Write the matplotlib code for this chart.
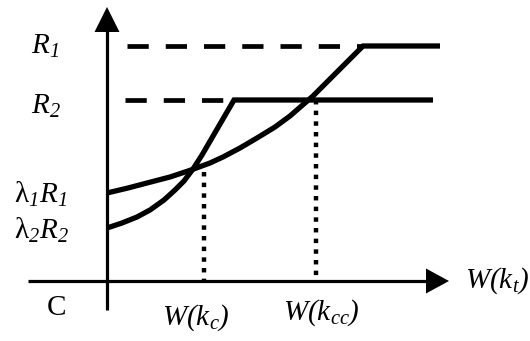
import matplotlib
matplotlib.use("Agg")
import matplotlib.pyplot as plt

plt.rcParams['font.family'] = ['Liberation Serif', 'DejaVu Serif']
plt.rcParams['mathtext.fontset'] = 'custom'
# everything inside $...$ is italic in the original (subscript digits too)
plt.rcParams['mathtext.rm'] = 'Liberation Serif:italic'
plt.rcParams['mathtext.it'] = 'Liberation Serif:italic'

# levels (origin at the axes crossing)
R1 = 235
R2 = 181

# curve 1: starts at lambda1*R1, saturates at R1
c1_x = [0, 21, 40, 63, 84, 103, 116, 133, 150, 168, 183, 206, 230, 256, 333]
c1_y = [88, 93, 98, 104, 111, 118, 124, 133, 143, 154, 165, 185, 209, 235, 235]

# curve 2: starts at lambda2*R2, saturates at R2
c2_x = [0, 15, 30, 43, 57, 68, 77, 86, 95, 127, 326]
c2_y = [53, 58, 64, 71, 81, 91, 100, 112, 126, 181, 181]

# crossing points marked on the x axis
kc_x, kc_top = 97, 109
kcc_x, kcc_top = 209, 181

fig = plt.figure(figsize=(5.3, 3.41), dpi=100)
ax = fig.add_axes([0, 0, 1, 1])
ax.set_xlim(-107, 423)
ax.set_ylim(-60, 281)
ax.axis('off')

# axes with arrow heads
ax.plot([-79, 325], [0, 0], color='k', lw=2.3, solid_capstyle='butt')
ax.plot([0, 0], [-29, 255], color='k', lw=2.3, solid_capstyle='butt')
ax.arrow(300, 0, 42, 0, width=0.1, head_width=25, head_length=23,
         length_includes_head=True, fc='k', ec='k', lw=0)
ax.arrow(0, 230, 0, 44, width=0.1, head_width=25, head_length=25,
         length_includes_head=True, fc='k', ec='k', lw=0)

# dashed levels
ax.plot([20, c1_x[-2]], [R1, R1], color='k', lw=3.4,
        linestyle=(0, (4.5, 3.6)), dash_capstyle='butt')
ax.plot([18, c2_x[-2]], [R2, R2], color='k', lw=3.4,
        linestyle=(0, (4.5, 3.6)), dash_capstyle='butt')

# curves
ax.plot(c1_x, c1_y, color='k', lw=3.8, solid_joinstyle='miter', solid_capstyle='butt')
ax.plot(c2_x, c2_y, color='k', lw=3.8, solid_joinstyle='miter', solid_capstyle='butt')

# dotted drop lines
ax.plot([kc_x, kc_x], [kc_top, 0], color='k', lw=3.2,
        linestyle=(0, (1, 1.4)), dash_capstyle='butt')
ax.plot([kcc_x, kcc_x], [kcc_top, 0], color='k', lw=3.2,
        linestyle=(0, (1, 1.4)), dash_capstyle='butt')

fs = 21
ax.text(-62, R1, r'R$_{1}$', fontsize=fs, style='italic', ha='center', va='center')
ax.text(-61, R2 - 6, r'R$_{2}$', fontsize=fs, style='italic', ha='center', va='center')
ax.text(-66, 87, r'λ$_{1}R_{1}$', fontsize=fs, ha='center', va='center')
ax.text(-66, 51, r'λ$_{2}R_{2}$', fontsize=fs, ha='center', va='center')
ax.text(-51, -27, 'C', fontsize=fs, ha='center', va='center')
ax.text(89, -37, r'W(k$_{c}$)', fontsize=fs, style='italic', ha='center', va='center')
ax.text(214, -32, r'W(k$_{cc}$)', fontsize=fs, style='italic', ha='center', va='center')
ax.text(390, 0, r'W(k$_{t}$)', fontsize=fs, style='italic', ha='center', va='center')

fig.savefig('out.png', dpi=100)
